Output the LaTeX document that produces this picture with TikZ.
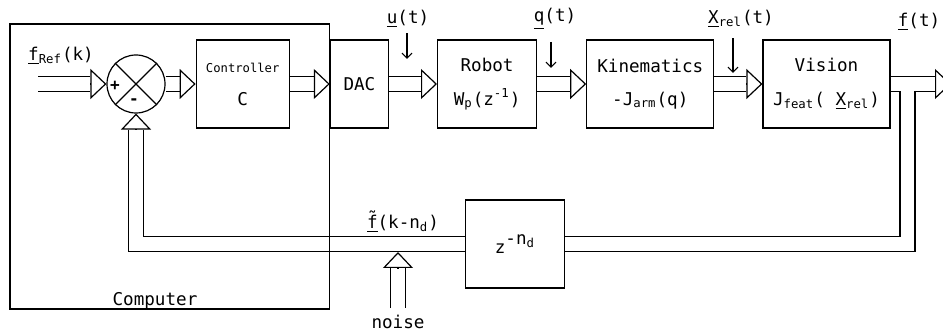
\documentclass[tikz,border=0pt]{standalone}
\usepackage{fontspec}
\setmainfont{DejaVu Sans Mono}
\usepackage{tikz}
\usetikzlibrary{arrows.meta, positioning, fit, calc}
\tikzset{
  every node/.style={font=\fontsize{8.8}{10.5}\selectfont},
  box/.style={rectangle, draw=black, line width=0.6pt, inner sep=0pt,
              minimum height=44pt, align=center},
  sumnode/.style={circle, draw=black, line width=0.6pt, minimum size=29pt,
                  inner sep=0pt},
  frame/.style={rectangle, draw=black, line width=0.6pt, inner sep=0pt},
  bus/.style={draw=black, double=white, double distance=6.9pt,
              line width=0.6pt, line join=miter},
  head/.style={-{Triangle[open, length=8pt, width=15pt]}, line width=0.6pt},
  sig/.style={-{Straight Barb[length=2.5pt, width=5pt]}, line width=0.6pt},
  lbl/.style={inner sep=1pt},
}

\begin{document}
\begin{tikzpicture}[x=0.5pt, y=-0.5pt]
  \useasboundingbox (0,0) rectangle (943,330);
  \clip (0,0) rectangle (943,330);

  % Forward path
  \node[sumnode] (sum) at (136,84) {};
  \node[box, minimum width=46.5pt, right=15pt of sum] (ctrl)
    {{\fontsize{6.1}{7}\selectfont Controller}\\[6pt]C};
  \node[box, minimum width=29pt, right=20pt of ctrl] (dac) {DAC};
  \node[box, minimum width=49.5pt, right=24pt of dac] (robot)
    {Robot\\[6.25pt]W\textsubscript{p}(z\textsuperscript{-1})};
  \node[box, minimum width=63.5pt, right=24.5pt of robot] (kin)
    {Kinematics\\[6.25pt]-J\textsubscript{arm}(q)};
  \node[box, minimum width=63.5pt, right=24pt of kin] (vision)
    {Vision\\[6.25pt]J\textsubscript{feat}( \underline{X}\textsubscript{rel})};

  % Delay block
  \node[box, minimum width=49.5pt] (delay) at (515,244)
    {z\raisebox{4.5pt}{-n\textsubscript{d}}};

  % Summing junction signs
  \draw[line width=0.6pt] (sum.north west) -- (sum.south east)
                          (sum.north east) -- (sum.south west);
  \node[font=\fontsize{8}{9}\selectfont\bfseries] (plus) at (115,86) {+};
  \node[font=\fontsize{8}{9}\selectfont\bfseries] (minus) at (134,102) {-};

  % Free ends
  \coordinate (in) at (38,84);
  \coordinate (out) at (951,84);
  \coordinate (tap) at (907.5,90.8);
  \coordinate (nz) at (398,252);
  \coordinate (uin) at (407,59);
  \coordinate (qin) at (551,68);
  \coordinate (xin) at (733,73);
  \coordinate (cbot) at (0,309);

  % Labels
  \node[lbl] (freflab) at (61,56) {\underline{f}\textsubscript{Ref}(k)};
  \node[lbl] (ulab) at (408,19) {\underline{u}(t)};
  \node[lbl] (qlab) at (555,19) {\underline{q}(t)};
  \node[lbl] (xlab) at (741,19) {\underline{X}\textsubscript{rel}(t)};
  \node[lbl] (flab) at (919,22) {\underline{f}(t)};
  \node[lbl] (fdlab) at (403,222) {\underline{\~{f}}(k-n\textsubscript{d})};
  \node (noise) at (398,322) {noise};
  \node (complab) at (155,301) {Computer};

  % Buses
  \draw[bus, shorten >=8pt] (in) -- (sum);
  \draw[bus, shorten >=8pt] (sum) -- (ctrl);
  \draw[bus, shorten >=8pt] (ctrl) -- (dac);
  \draw[bus, shorten >=8pt] (dac) -- (robot);
  \draw[bus, shorten >=8pt] (robot) -- (kin);
  \draw[bus, shorten >=8pt] (kin) -- (vision);
  \draw[bus, shorten >=8pt] (vision) -- (out);

  % Feedback loop
  \draw[bus] (tap) |- (delay);
  \draw[bus, shorten >=8pt] (delay) -| (sum);
  \draw[bus, shorten >=8pt] (noise) -- (nz);

  % Arrow heads
  \draw[head] ([xshift=-8pt]sum.west) -- (sum.west);
  \draw[head] ([xshift=-8pt]ctrl.west) -- (ctrl.west);
  \draw[head] ([xshift=-8pt]dac.west) -- (dac.west);
  \draw[head] ([xshift=-8pt]robot.west) -- (robot.west);
  \draw[head] ([xshift=-8pt]kin.west) -- (kin.west);
  \draw[head] ([xshift=-8pt]vision.west) -- (vision.west);
  \draw[head] ([xshift=-8pt]out) -- (out);
  \draw[head] ([yshift=-8pt]sum.south) -- (sum.south);
  \draw[head] ([yshift=-8pt]nz) -- (nz);

  % Disturbance arrows
  \draw[sig, shorten <=1.5pt] (uin |- ulab.south) -- (uin);
  \draw[sig, shorten <=5pt] (qin |- qlab.south) -- (qin);
  \draw[sig, shorten <=4pt] (xin |- xlab.south) -- (xin);

  % Computer frame
  \node[frame, fit={(10,24) (dac.west |- cbot)}] (computer) {};
\end{tikzpicture}
\end{document}
